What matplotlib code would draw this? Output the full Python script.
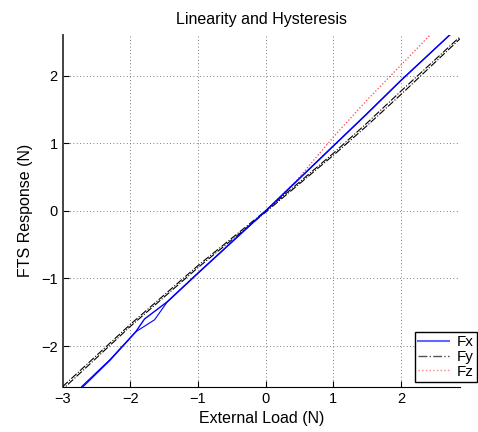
import matplotlib.pyplot as plt

plt.rcParams['font.family'] = ['Liberation Sans', 'DejaVu Sans']

# Fx: loading and unloading branches
fx_load_x = [-2.72, -2.3, -2.0, -1.92, -1.79, -1.46, -1.0, -0.5, 0.0, 0.5, 1.0, 1.5, 2.0, 2.72]
fx_load_y = [-2.62, -2.21, -1.88, -1.79, -1.60, -1.35, -0.92, -0.46, 0.0, 0.48, 0.96, 1.44, 1.93, 2.6]
fx_unld_x = [2.72, 2.0, 1.5, 1.0, 0.5, 0.0, -0.5, -1.0, -1.46, -1.64, -1.92, -2.0, -2.3, -2.72]
fx_unld_y = [2.6, 1.925, 1.435, 0.955, 0.475, -0.005, -0.465, -0.925, -1.355, -1.61, -1.79, -1.875, -2.2, -2.6]

# Fy
fy_load_x = [-3.0, -2.0, -1.0, 0.0, 1.0, 1.5, 2.0, 2.9]
fy_load_y = [-2.6, -1.68, -0.81, 0.0, 0.85, 1.30, 1.77, 2.6]
fy_unld_x = [2.9, 2.0, 1.5, 1.0, 0.0, -1.0, -2.0, -3.0]
fy_unld_y = [2.57, 1.72, 1.26, 0.82, -0.02, -0.84, -1.71, -2.64]

# Fz (only positive range visible)
fz_x = [0.0, 0.45, 1.0, 1.5, 1.85, 2.43]
fz_y = [0.0, 0.44, 1.09, 1.64, 2.0, 2.6]

fig = plt.figure(figsize=(4.78, 4.32), dpi=100)
ax = fig.add_axes([0.131, 0.105, 0.831, 0.814])

ax.plot(fz_x, fz_y, ':', color='#ff4040', lw=0.9, zorder=2)
ax.plot(fy_load_x, fy_load_y, '-.', color='black', lw=0.8, zorder=3)
ax.plot(fy_unld_x, fy_unld_y, '-.', color='black', lw=0.8, zorder=3)
ax.plot(fx_load_x, fx_load_y, '-', color='#0000ff', lw=1.0, zorder=4)
ax.plot(fx_unld_x, fx_unld_y, '-', color='#0000ff', lw=0.8, zorder=4)

ax.set_xlim(-3, 2.87)
ax.set_ylim(-2.6, 2.6)
ax.set_xticks([-3, -2, -1, 0, 1, 2])
ax.set_yticks([-2, -1, 0, 1, 2])
ax.set_xticklabels(['\u22123', '\u22122', '\u22121', '0', '1', '2'])
ax.set_yticklabels(['\u22122', '\u22121', '0', '1', '2'])
ax.grid(True, linestyle=(0, (1, 3)), color='#555555', lw=0.6)
ax.tick_params(direction='in', length=4, labelsize=10.5)
ax.spines['top'].set_visible(False)
ax.spines['right'].set_visible(False)
ax.spines['left'].set_color('#444444')
ax.spines['left'].set_linewidth(1.4)

ax.set_title('Linearity and Hysteresis', fontsize=11.5, pad=8)
ax.set_xlabel('External Load (N)', fontsize=11.5)
ax.set_ylabel('FTS Response (N)', fontsize=11.5, labelpad=6)

h1, = ax.plot([], [], '-', color='#6666ff', lw=1.5)
h2, = ax.plot([], [], '-.', color='#555555', lw=1.0)
h3, = ax.plot([], [], ':', color='#ff8080', lw=1.0)
leg = ax.legend([h1, h2, h3], ['Fx', 'Fy', 'Fz'], loc='lower right',
                bbox_to_anchor=(1.042, 0.014), fontsize=11, fancybox=False,
                framealpha=1, edgecolor='black', handlelength=2.0,
                borderpad=0.2, labelspacing=0.05, handletextpad=0.5,
                borderaxespad=0)
leg.get_frame().set_linewidth(1.0)

fig.savefig('out.png', dpi=100)
